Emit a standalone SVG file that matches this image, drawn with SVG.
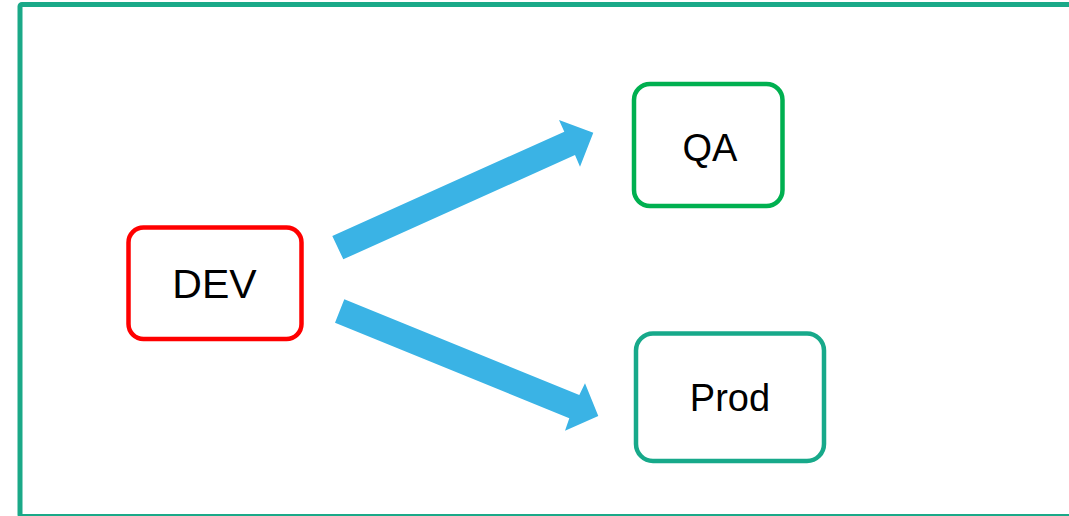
<svg xmlns="http://www.w3.org/2000/svg" width="1069" height="516" viewBox="0 0 1069 516">
  <style>
    .frame { fill: none; stroke: #1aa988; stroke-width: 5; }
    .box { fill: #ffffff; stroke-width: 4.5; }
    .label { font-family: "Liberation Sans", Arial, sans-serif; fill: #000000; text-anchor: middle; }
    .flow { fill: #3ab3e5; }
  </style>

  <rect width="1069" height="516" fill="#ffffff"/>

  <!-- outer frame, runs past the right and bottom edges -->
  <rect class="frame" x="20" y="4.5" width="1080" height="512" rx="2"/>

  <!-- block arrows -->
  <g id="connectors">
    <polygon class="flow" points="332.3,236 564.3,131.7 559,120 593.3,132.7 580,166.7 575,155 343.3,259.3"/>
    <polygon class="flow" points="344.3,299.3 579.3,395 585,383.3 598.3,416 565,430.7 569.3,418.3 335,322.7"/>
  </g>

  <g id="dev">
    <rect class="box" x="128.5" y="227.5" width="173" height="111.5" rx="15" stroke="#ff0000"/>
    <text class="label" x="214.5" y="298" font-size="41">DEV</text>
  </g>

  <g id="qa">
    <rect class="box" x="634" y="84" width="148.5" height="122" rx="16" stroke="#00b050"/>
    <text class="label" x="710" y="161" font-size="38">QA</text>
  </g>

  <g id="prod">
    <rect class="box" x="636" y="333.5" width="188" height="127.5" rx="17" stroke="#17a98a"/>
    <text class="label" x="730" y="411" font-size="38">Prod</text>
  </g>
</svg>
